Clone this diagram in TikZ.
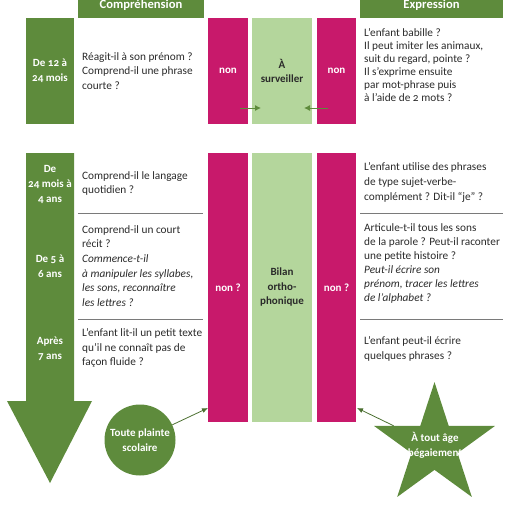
\documentclass[tikz,border=0pt]{standalone}
\usepackage{fontspec}
\setmainfont{Carlito}[Numbers=OldStyle]
\usetikzlibrary{shapes.geometric,arrows.meta}
\definecolor{dg}{HTML}{5E8B3C}
\definecolor{pk}{HTML}{C8196B}
\definecolor{lg}{HTML}{B4D69C}
\definecolor{sepc}{HTML}{7A7A7A}
\definecolor{txt}{HTML}{2A2A2A}
\begin{document}
\begin{tikzpicture}[x=1pt,y=-1pt,
  blk/.style={inner sep=0pt,anchor=north west,minimum width=#1},
  gbox/.style={blk=#1,fill=dg},
  pbox/.style={blk=#1,fill=pk},
  lbox/.style={blk=#1,fill=lg},
  wtxt/.style={text=white,font=\fontsize{11}{15}\selectfont\bfseries,align=center},
  dtxt/.style={text=txt,font=\fontsize{11}{14.5}\selectfont\bfseries,align=center},
  htxt/.style={text=white,font=\fontsize{12.6}{15}\selectfont\bfseries,inner sep=0pt},
  body/.style={text=txt,font=\fontsize{11.3}{14.6}\selectfont,align=left,anchor=west,inner sep=0pt},
  sepline/.style={draw=sepc,line width=0.8pt},
  conn/.style={draw=dg,line width=0.9pt,-{Latex[length=6pt,width=6pt]}},
  conn2/.style={draw=dg!80!black,line width=0.8pt,-{Latex[length=6pt,width=5pt]}}
]
\useasboundingbox (0,0) rectangle (514,516);

% headers
\node[gbox=126pt,minimum height=18pt] (hc) at (78,0) {};
\node[htxt] (hct) at (141,5) {Compréhension};
\node[gbox=143pt,minimum height=18pt] (he) at (360,0) {};
\node[htxt] (het) at (431.5,5) {Expression};

% row 1
\node[gbox=48pt,minimum height=106pt] (age1) at (26,18) {};
\node[wtxt] (age1t) at (50,71) {De 12 à\\24 mois};
\node[pbox=40pt,minimum height=106pt] (pk1) at (208,18) {};
\node[wtxt] (pk1t) at (228,71) {non};
\node[lbox=60pt,minimum height=106pt] (lg1) at (252,18) {};
\node[dtxt] (lg1t) at (282,71) {À\\surveiller};
\node[pbox=39pt,minimum height=106pt] (pk1r) at (317,18) {};
\node[wtxt] (pk1rt) at (336.5,71) {non};

\node[body] (q1l) at (82,71) {Réagit-il à son prénom ?\\Comprend-il une phrase\\courte ?};
\node[body,font=\fontsize{11.3}{12.9}\selectfont] (q1r) at (364,65) {L’enfant babille ?\\Il peut imiter les animaux,\\suit du regard, pointe ?\\Il s’exprime ensuite\\par mot-phrase puis\\à l’aide de 2 mots ?};

\coordinate (a1s) at (240,108);
\coordinate (a1e) at (261,108);
\coordinate (a2s) at (328,108);
\coordinate (a2e) at (304,108);
\draw[conn] (a1s) -- (a1e);
\draw[conn] (a2s) -- (a2e);

% section 2: age column with big arrow
\fill[dg] (26,153) -- (74,153) -- (74,401) -- (92,401) -- (50,483) -- (7,401) -- (26,401) -- cycle;
\node[wtxt] (age2) at (50,184) {De\\24 mois à\\4 ans};
\node[wtxt] (age3) at (50,266) {De 5 à\\6 ans};
\node[wtxt] (age4) at (50,349) {Après\\7 ans};

\node[pbox=40pt,minimum height=269pt] (pk2) at (208,153) {};
\node[wtxt] (pk2t) at (228,287.5) {non ?};
\node[lbox=60pt,minimum height=269pt] (lg2) at (252,153) {};
\node[dtxt] (lg2t) at (282,287.5) {Bilan\\ortho-\\phonique};
\node[pbox=39pt,minimum height=269pt] (pk2r) at (317,153) {};
\node[wtxt] (pk2rt) at (336.5,287.5) {non ?};

\node[body] (q2l) at (82,183.5) {Comprend-il le langage\\quotidien ?};
\node[body] (q3l) at (82,266) {Comprend-il un court\\récit ?\\\textit{Commence-t-il}\\\textit{à manipuler les syllabes,}\\\textit{les sons, reconnaître}\\\textit{les lettres ?}};
\node[body] (q4l) at (82,348) {L’enfant lit-il un petit texte\\qu’il ne connaît pas de\\façon fluide ?};

\node[body] (q2r) at (364,182.5) {L’enfant utilise des phrases\\de type sujet-verbe-\\complément ? Dit-il “je” ?};
\node[body,font=\fontsize{11.3}{14}\selectfont] (q3r) at (364,263) {Articule-t-il tous les sons\\de la parole ? Peut-il raconter\\une petite histoire ?\\\textit{Peut-il écrire son}\\\textit{prénom, tracer les lettres}\\\textit{de l’alphabet ?}};
\node[body] (q4r) at (364,349) {L’enfant peut-il écrire\\quelques phrases ?};

% separators
\coordinate (sl1a) at (78,213); \coordinate (sl1b) at (203,213);
\coordinate (sl2a) at (78,319); \coordinate (sl2b) at (203,319);
\coordinate (sr1a) at (360,213); \coordinate (sr1b) at (503,213);
\coordinate (sr2a) at (360,319); \coordinate (sr2b) at (503,319);
\draw[sepline] (sl1a) -- (sl1b);
\draw[sepline] (sl2a) -- (sl2b);
\draw[sepline] (sr1a) -- (sr1b);
\draw[sepline] (sr2a) -- (sr2b);

% circle and star
\node[circle,fill=dg,minimum size=71pt,inner sep=0pt,wtxt] (circ) at (140,440) {Toute plainte\\scolaire};
\node[star,star points=5,star point ratio=2.618,fill=dg,minimum size=127pt,inner sep=0pt,wtxt] (star) at (434.5,445.6) {};
\node[wtxt] (start) at (435,445) {À tout âge\\bégaiement};

\coordinate (p2in) at (208,408);
\coordinate (p3in) at (357,408);
\draw[conn2] (circ) -- (p2in);
\draw[conn2] (star) -- (p3in);
\end{tikzpicture}
\end{document}
